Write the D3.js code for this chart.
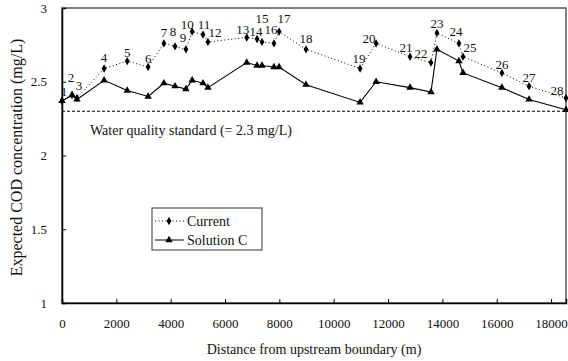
<!DOCTYPE html>
<html>
<head>
<meta charset="utf-8">
<script src="https://cdn.jsdelivr.net/npm/d3@7"></script>
<style>
  body { margin: 0; background: #fff; }
  text { font-family: "Liberation Serif", "Times New Roman", serif; fill: #111; }
</style>
</head>
<body>
<svg id="chart" width="568" height="361"></svg>
<script>
// section numbers along the river
const sections = d3.range(1, 29);
// distance from upstream boundary (m)
const distance = [0, 370, 550, 1550, 2400, 3170, 3750, 4160, 4560, 4790, 5190, 5370, 6800, 7180,
  7360, 7800, 7990, 8980, 10970, 11560, 12810, 13580, 13800, 14610, 14760, 16190, 17190, 18550];
// expected COD (mg/L)
const current = [2.37, 2.41, 2.39, 2.59, 2.64, 2.60, 2.76, 2.74, 2.72, 2.84, 2.82, 2.77, 2.80, 2.79,
  2.77, 2.76, 2.84, 2.72, 2.59, 2.76, 2.67, 2.63, 2.83, 2.76, 2.67, 2.56, 2.47, 2.39];
const solutionC = [2.37, 2.41, 2.38, 2.51, 2.44, 2.40, 2.49, 2.47, 2.45, 2.51, 2.49, 2.46, 2.63, 2.61,
  2.61, 2.60, 2.60, 2.48, 2.36, 2.50, 2.46, 2.43, 2.72, 2.64, 2.56, 2.46, 2.38, 2.31];
const standard = 2.3;
const xTicks = d3.range(0, 18001, 2000);
const yTicks = [1, 1.5, 2, 2.5, 3];

// label nudges [dx, dy] from the Current marker
const labelNudge = [[2, -5], [-1, -13], [2, -8], [0, -6], [0, -4], [0, -4], [0, -6], [-2, -10],
  [-3, -7], [-5, -3], [1, -6], [7, -5], [-4, -4], [-1, -3], [0, -19], [-3, -9], [5, -9], [0, -6],
  [-1, -5], [-7, 0], [-4, -5], [-10, -5], [0, -5], [-3, -7], [7, -5], [0, -4], [0, -4], [-9, -3]];

const svg = d3.select('#chart');
const plotL = 62, plotR = 566, plotT = 8, plotB = 303;

const x = d3.scaleLinear().domain([0, 18550]).range([plotL, plotR]);
const y = d3.scaleLinear().domain([1, 3]).range([plotB, plotT]);

// frame
svg.append('rect')
  .attr('x', plotL).attr('y', plotT)
  .attr('width', plotR - plotL).attr('height', plotB - plotT)
  .attr('fill', 'none').attr('stroke', '#555').attr('stroke-width', 1.5);

// axes with inward ticks
const xAxis = svg.append('g')
  .attr('transform', 'translate(0,' + plotB + ')')
  .call(d3.axisBottom(x).tickValues(xTicks).tickSize(-4).tickPadding(16).tickFormat(d3.format('d')));
const yAxis = svg.append('g')
  .attr('transform', 'translate(' + plotL + ',0)')
  .call(d3.axisLeft(y).tickValues(yTicks).tickSize(-4).tickPadding(15).tickFormat(d => d));

[xAxis, yAxis].forEach(g => {
  g.select('.domain').attr('stroke', '#000').attr('stroke-width', 1.5);
  g.selectAll('.tick line').attr('stroke', '#000');
  g.selectAll('.tick text')
    .attr('fill', '#111')
    .style('font-family', '"Liberation Serif", serif')
    .style('font-size', '13px');
});

// water quality standard
svg.append('line')
  .attr('x1', plotL).attr('x2', plotR)
  .attr('y1', y(standard)).attr('y2', y(standard))
  .attr('stroke', '#000').attr('stroke-width', 1)
  .attr('stroke-dasharray', '3,2');
svg.append('text')
  .attr('x', 90).attr('y', y(standard) + 24)
  .style('font-size', '14px')
  .text('Water quality standard (= 2.3 mg/L)');

const line = d3.line().x(d => x(d[0])).y(d => y(d[1]));
const curPts = distance.map((d, i) => [d, current[i]]);
const solPts = distance.map((d, i) => [d, solutionC[i]]);

svg.append('path')
  .attr('d', line(curPts))
  .attr('fill', 'none').attr('stroke', '#000').attr('stroke-width', 1)
  .attr('stroke-dasharray', '1,2.5');
svg.append('path')
  .attr('d', line(solPts))
  .attr('fill', 'none').attr('stroke', '#000').attr('stroke-width', 1.1);

const diamond = d3.symbol().type(d3.symbolDiamond).size(20);
const triangle = d3.symbol().type(d3.symbolTriangle).size(24);

svg.append('g').selectAll('path')
  .data(solPts).join('path')
  .attr('d', triangle)
  .attr('transform', d => 'translate(' + x(d[0]) + ',' + y(d[1]) + ')')
  .attr('fill', '#000');
svg.append('g').selectAll('path')
  .data(curPts).join('path')
  .attr('d', diamond)
  .attr('transform', d => 'translate(' + x(d[0]) + ',' + y(d[1]) + ')')
  .attr('fill', '#000');

svg.append('g').selectAll('text')
  .data(sections).join('text')
  .attr('x', (s, i) => x(distance[i]) + labelNudge[i][0])
  .attr('y', (s, i) => y(current[i]) + labelNudge[i][1])
  .attr('text-anchor', 'middle')
  .style('font-size', '13px')
  .text(s => s);

// axis titles
svg.append('text')
  .attr('x', (plotL + plotR) / 2).attr('y', 354)
  .attr('text-anchor', 'middle')
  .style('font-size', '14px')
  .text('Distance from upstream boundary (m)');
svg.append('text')
  .attr('transform', 'translate(22,' + ((plotT + plotB) / 2 + 2) + ') rotate(-90)')
  .attr('text-anchor', 'middle')
  .style('font-size', '16px')
  .text('Expected COD concentration (mg/L)');

// legend
const lg = svg.append('g').attr('transform', 'translate(152,208)');
lg.append('rect').attr('width', 110).attr('height', 42)
  .attr('fill', '#fff').attr('stroke', '#333').attr('stroke-width', 1);
const legendItems = [
  { name: 'Current', dash: '1,2.5', sym: diamond },
  { name: 'Solution C', dash: null, sym: triangle }
];
legendItems.forEach((it, i) => {
  const cy = 13 + i * 19;
  lg.append('line').attr('x1', 3).attr('x2', 32).attr('y1', cy).attr('y2', cy)
    .attr('stroke', '#000').attr('stroke-width', 1)
    .attr('stroke-dasharray', it.dash);
  lg.append('path').attr('d', it.sym).attr('transform', 'translate(17,' + cy + ')').attr('fill', '#000');
  lg.append('text').attr('x', 35).attr('y', cy + 5).style('font-size', '14px').text(it.name);
});
</script>
</body>
</html>
